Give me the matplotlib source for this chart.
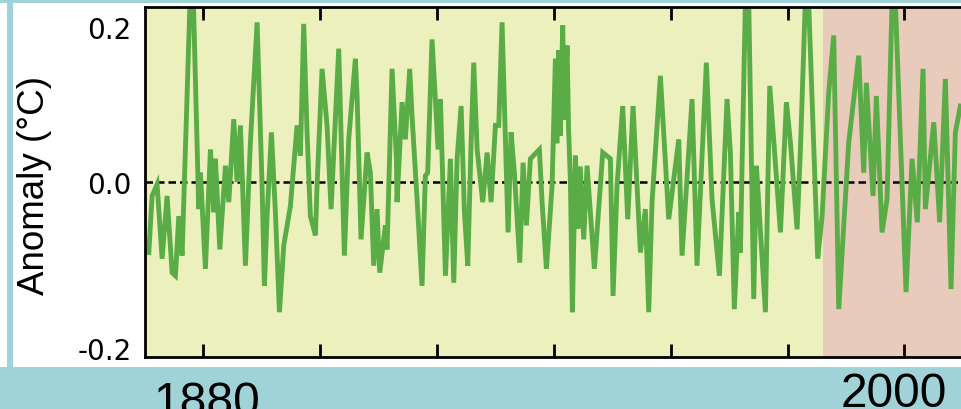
import matplotlib
matplotlib.use("Agg")
import matplotlib.pyplot as plt
from matplotlib.patches import Rectangle
from matplotlib.transforms import ScaledTranslation

# Anomaly series (year, °C)
years = [
    1870.65, 1871.22, 1872.07, 1872.93, 1873.78, 1874.64, 1875.21, 1875.78, 1876.35, 1876.92,
    1877.7, 1878.3, 1879.20, 1879.49, 1880.34, 1881.2, 1881.77, 1882.05, 1882.8, 1883.77,
    1884.34, 1885.19, 1885.76, 1886.33, 1887.19, 1888.04, 1889.19, 1890.04, 1890.44, 1890.9,
    1891.64, 1892.32, 1893.01, 1893.75, 1894.89, 1895.46, 1896.03, 1896.6, 1897.17, 1897.74,
    1898.31, 1899.17, 1899.45, 1900.31, 1901.16, 1901.85, 1903.16, 1904.13, 1904.87, 1906.01,
    1906.3, 1906.98, 1908.01, 1908.58, 1909.15, 1909.72, 1910.18, 1911.15, 1911.43, 1912.29,
    1913.03, 1913.14, 1914.0, 1914.57, 1915.31, 1915.71, 1916.57, 1917.42, 1917.99, 1918.39,
    1919.13, 1919.7, 1920.16,
    1920.57, 1921.43, 1922.28, 1922.85, 1923.42, 1924.11, 1924.68, 1925.25, 1925.82, 1926.27,
    1926.85, 1927.81, 1928.56, 1929.24, 1929.98, 1930.55, 1931.12, 1931.69, 1932.15, 1932.66,
    1933.23, 1934.15, 1934.72, 1935.29, 1935.97, 1937.51, 1937.97, 1938.71, 1939.68, 1940.25,
    1940.5, 1940.8, 1941.1, 1941.5, 1941.8, 1942.25, 1942.5, 1942.82, 1943.16, 1943.67,
    1944.1, 1944.5, 1945.1, 1945.67, 1946.92, 1948.35, 1949.66,
    1950.12, 1950.8, 1951.77, 1952.63, 1953.54, 1954.8, 1955.65, 1956.22, 1956.79, 1958.22,
    1959.65, 1961.36, 1961.93, 1963.64, 1964.49, 1966.09, 1967.06, 1968.32, 1969.63, 1970.2,
    1970.88, 1971.63,
    1971.92, 1972.2, 1972.78, 1973.35, 1974.2, 1974.66, 1976.2, 1976.94, 1978.77, 1979.79,
    1980.48, 1981.62, 1982.19, 1983.04, 1983.61, 1985.15, 1985.9, 1987.04, 1987.89, 1988.75,
    1990.46, 1992.17, 1993.03, 1993.48, 1994.62, 1995.19, 1996.16, 1997.02, 1997.88, 1998.45,
    2000.27, 2001.3, 2002.2, 2003.18, 2003.58, 2005.01, 2006.03, 2007.0, 2007.97, 2008.71,
    2009.57,
]
anomaly = [
    -0.091, -0.018, -0.003, -0.099, -0.018, -0.117, -0.121, -0.044, -0.095, 0.042,
    0.232, 0.228, -0.035, 0.012, -0.112, 0.042, -0.039, 0.030, -0.087, 0.021,
    -0.026, 0.081, 0.000, 0.073, -0.108, 0.051, 0.206, -0.005, -0.134, -0.044,
    0.064, -0.039, -0.168, -0.082, -0.031, 0.021, 0.073, 0.034, 0.204, 0.064,
    -0.044, -0.069, -0.005, 0.146, 0.073, -0.035, 0.172, -0.095, 0.055, 0.159,
    0.111, -0.074, 0.038, 0.012, -0.108, -0.035, -0.117, -0.056, -0.087, 0.146,
    0.030, -0.026, 0.103, 0.055, 0.146, 0.085, -0.022, -0.134, 0.008, 0.012,
    0.184, 0.107, 0.042,
    0.107, -0.121, 0.030, -0.130, 0.030, 0.098, -0.039, -0.108, 0.051, 0.154,
    0.042, -0.026, 0.038, -0.026, 0.073, 0.073, 0.206, 0.055, -0.065, 0.064,
    0.012, -0.104, 0.025, -0.056, 0.030, 0.042, -0.026, -0.112, -0.005, 0.159,
    0.050, 0.170, 0.060, 0.202, 0.080, 0.176, 0.070, 0.000, -0.168, 0.034,
    -0.060, 0.020, -0.074, 0.021, -0.112, 0.038, 0.030,
    -0.147, -0.005, 0.098, -0.048, 0.098, -0.091, -0.035, -0.168, -0.026, 0.137,
    -0.048, 0.055, -0.095, 0.107, -0.108, 0.154, -0.022, -0.121, 0.107, 0.038,
    -0.164, -0.039,
    -0.091, 0.021, 0.235, 0.230, -0.151, 0.021, -0.168, 0.124, -0.065, 0.103,
    0.051, -0.061, 0.042, 0.235, 0.230, -0.099, -0.044, 0.116, 0.189, -0.164,
    0.051, 0.163, 0.012, 0.128, -0.018, 0.111, -0.065, -0.022, 0.235, 0.230,
    -0.142, 0.030, -0.052, 0.146, -0.035, 0.077, -0.052, 0.133, -0.138, 0.064,
    0.098,
]

period_split = 1986
year_ticks = [1880, 1900, 1920, 1940, 1960, 1980, 2000]
y_ticks = [0.2, 0.0, -0.2]
y_tick_labels = ["0.2", "0.0", "-0.2"]
year_labels = ["1880", "2000"]

TEAL = "#9fd3d7"
YELLOW = "#ecf0bd"
PINK = "#e8cbbb"
GREEN = "#5aac46"

W, H = 961, 410
fig = plt.figure(figsize=(W / 100, H / 100), dpi=100, facecolor="white")

# teal frame strips (figure pixel coords converted to fractions)
def px_rect(x0, y0, x1, y1):
    return Rectangle((x0 / W, 1 - y1 / H), (x1 - x0) / W, (y1 - y0) / H,
                     transform=fig.transFigure, facecolor=TEAL, edgecolor="none", zorder=0)

fig.patches.extend([px_rect(0, 0, W, 4), px_rect(7, 0, 13, 368), px_rect(0, 368, W, H)])

xmin, xmax = 1870, 2010
ax_left, ax_top, ax_bottom = 145, 8, 358
px_per_year = 5.842
ax_right = ax_left + (xmax - xmin) * px_per_year
ax = fig.add_axes([ax_left / W, 1 - ax_bottom / H, (ax_right - ax_left) / W,
                   (ax_bottom - ax_top) / H])
ax.set_facecolor("none")

ylim = 0.2258
ax.set_xlim(xmin, xmax)
ax.set_ylim(-ylim, ylim)

ax.axvspan(xmin, period_split, color=YELLOW, lw=0, zorder=0)
ax.axvspan(period_split, xmax, color=PINK, lw=0, zorder=0)
ax.axhline(0, color="black", lw=1.8, ls=(0, (3, 1.6)), zorder=1)
ax.plot(years, anomaly, color=GREEN, lw=3.5, solid_joinstyle="miter", zorder=2)

for side in ("left", "top", "bottom"):
    ax.spines[side].set_linewidth(2.0)
    ax.spines[side].set_color("black")
ax.spines["right"].set_visible(False)

ax.set_xticks(year_ticks)
ax.tick_params(axis="x", which="both", direction="in", length=9.5, width=2.0,
               top=True, bottom=True, labelbottom=False, labeltop=False)
ax.set_yticks(y_ticks)
ax.set_yticklabels(y_tick_labels, fontfamily="DejaVu Sans", fontsize=20)
ax.tick_params(axis="y", length=0, pad=9.5)
for lab in ax.get_yticklabels():
    if lab.get_text() == "-0.2":
        lab.set_transform(lab.get_transform() + ScaledTranslation(0, -0.11, fig.dpi_scale_trans))

fig.text(35 / W, 1 - 186 / H, "Anomaly (°C)", rotation=90, ha="center", va="center",
         fontfamily="Liberation Sans", fontsize=26.5)

fig.text(153 / W, 1 - 416 / H, year_labels[0], ha="left", va="baseline",
         fontfamily="Liberation Sans", fontsize=34.5)
fig.text(841 / W, 1 - 407.5 / H, year_labels[1], ha="left", va="baseline",
         fontfamily="Liberation Sans", fontsize=34.5)

fig.savefig("out.png", dpi=100, facecolor="white")
